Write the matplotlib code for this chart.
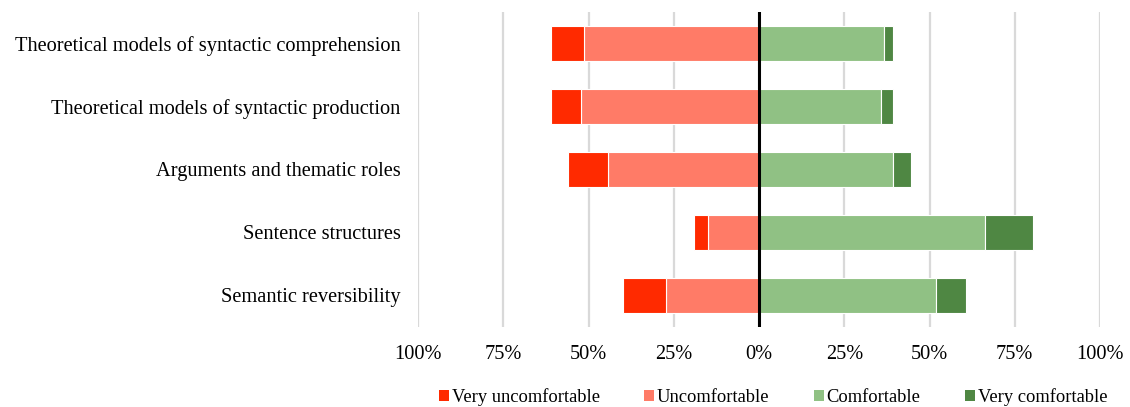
import numpy as np
import matplotlib.pyplot as plt
from matplotlib.patches import Patch

plt.rcParams['font.family'] = ['Liberation Serif', 'DejaVu Serif']

topics = [
    "Theoretical models of syntactic comprehension",
    "Theoretical models of syntactic production",
    "Arguments and thematic roles",
    "Sentence structures",
    "Semantic reversibility",
]
# shares of respondents, in percent
very_uncomfortable = [9.9, 8.9, 11.9, 3.9, 12.8]
uncomfortable = [51.2, 52.2, 44.2, 15.1, 27.2]
comfortable = [36.6, 35.7, 39.4, 66.2, 51.9]
very_comfortable = [2.8, 3.7, 5.2, 14.2, 8.8]

tick_vals = [-1.0, -0.75, -0.5, -0.25, 0.0, 0.25, 0.5, 0.75, 1.0]
tick_labels = ["100%", "75%", "50%", "25%", "0%", "25%", "50%", "75%", "100%"]

colors = {
    "Very uncomfortable": "#ff2a00",
    "Uncomfortable": "#ff7b67",
    "Comfortable": "#90c184",
    "Very comfortable": "#4f8743",
}

vu = np.array(very_uncomfortable) / 100
u = np.array(uncomfortable) / 100
c = np.array(comfortable) / 100
vc = np.array(very_comfortable) / 100
y = np.arange(len(topics))
h = 0.57

fig = plt.figure(figsize=(11.3, 4.07), dpi=100)
ax = fig.add_axes([0.370, 0.1966, 0.6035, 0.774])

edge = dict(edgecolor="white", linewidth=0.8)
ax.barh(y, -u, height=h, color=colors["Uncomfortable"], **edge, zorder=2)
ax.barh(y, -vu, left=-u, height=h, color=colors["Very uncomfortable"], **edge, zorder=2)
ax.barh(y, c, height=h, color=colors["Comfortable"], **edge, zorder=2)
ax.barh(y, vc, left=c, height=h, color=colors["Very comfortable"], **edge, zorder=2)

ax.axvline(0, color="black", linewidth=2.2, zorder=3)

ax.set_xlim(-1, 1)
ax.set_ylim(len(topics) - 0.5, -0.5)
ax.set_xticks(tick_vals)
ax.set_xticklabels(tick_labels, fontsize=14.7)
ax.set_yticks(y)
ax.set_yticklabels(topics, fontsize=14.7)
ax.tick_params(axis="both", length=0)
ax.tick_params(axis="x", pad=13)
ax.tick_params(axis="y", pad=12.5)
ax.xaxis.grid(True, color="#d9d9d9", linewidth=1.6, zorder=0)
ax.set_axisbelow(True)
for s in ax.spines.values():
    s.set_visible(False)

handles = [Patch(facecolor=col, edgecolor="none", label=name) for name, col in colors.items()]
fig.legend(handles=handles, loc="center", bbox_to_anchor=(0.684, 0.024), ncol=4,
           frameon=False, fontsize=13.3, handlelength=0.55, handleheight=0.55,
           handletextpad=0.15, columnspacing=2.4)

fig.savefig("out.png", dpi=100)
